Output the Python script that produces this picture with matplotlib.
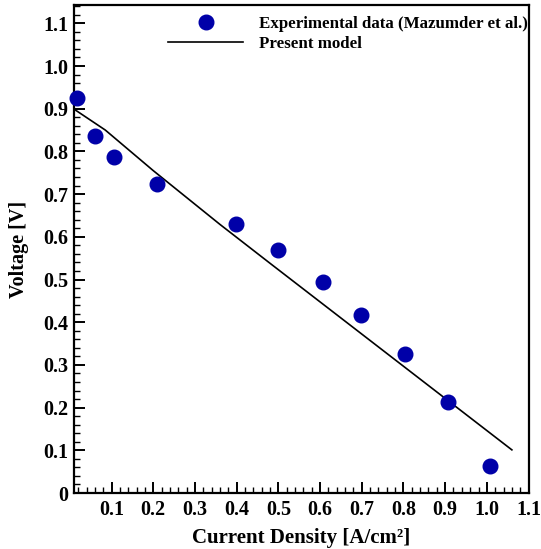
import matplotlib

matplotlib.use("Agg")
import matplotlib.pyplot as plt
from matplotlib.ticker import FixedLocator, MultipleLocator, FuncFormatter

# experimental points (Mazumder et al.)
exp_current = [0.016, 0.06, 0.106, 0.208, 0.398, 0.499, 0.607, 0.698, 0.804, 0.908, 1.008]
exp_voltage = [0.924, 0.836, 0.788, 0.723, 0.630, 0.569, 0.494, 0.417, 0.326, 0.214, 0.063]

# present model curve
model_current = [0.01, 0.085, 0.2, 0.36, 0.48, 1.06]
model_voltage = [0.899, 0.850, 0.755, 0.629, 0.538, 0.101]

x_ticks = [0.1, 0.2, 0.3, 0.4, 0.5, 0.6, 0.7, 0.8, 0.9, 1.0, 1.1]
y_ticks = [0.0, 0.1, 0.2, 0.3, 0.4, 0.5, 0.6, 0.7, 0.8, 0.9, 1.0, 1.1]

plt.rcParams["font.family"] = ["Liberation Serif", "DejaVu Serif"]
plt.rcParams["font.weight"] = "bold"

fig = plt.figure(figsize=(5.41, 5.49), dpi=100)
ax = fig.add_axes([0.1368, 0.102, 0.977 - 0.1368, 0.991 - 0.102])

ax.plot(exp_current, exp_voltage, linestyle="none", marker="o", markersize=10.5,
        color="#0000a8", label="Experimental data (Mazumder et al.)", clip_on=False, zorder=3)
ax.plot(model_current, model_voltage, color="black", linewidth=1.2, label="Present model", zorder=2)

ax.set_xlim(0.01, 1.1)
ax.set_ylim(0, 1.143)
ax.xaxis.set_major_locator(FixedLocator(x_ticks))
ax.yaxis.set_major_locator(FixedLocator(y_ticks))
ax.xaxis.set_minor_locator(MultipleLocator(0.02))
ax.yaxis.set_minor_locator(MultipleLocator(0.02))
ax.yaxis.set_major_formatter(FuncFormatter(lambda v, _p: "0" if abs(v) < 1e-9 else f"{v:.1f}"))
ax.xaxis.set_major_formatter(FuncFormatter(lambda v, _p: f"{v:.1f}"))

ax.tick_params(which="both", direction="in", top=False, right=False, width=1.4)
ax.tick_params(which="major", length=8, labelsize=14.5, pad=5)
ax.tick_params(axis="y", which="major", pad=4)
ax.tick_params(which="minor", length=4.5, width=1.0)
for side in ["left", "bottom", "right", "top"]:
    ax.spines[side].set_linewidth(1.6)

ax.set_xlabel("Current Density [A/cm²]", fontsize=15, fontweight="bold", labelpad=6)
ax.set_ylabel("Voltage [V]", fontsize=14.5, fontweight="bold", labelpad=10)

ax.legend(loc="upper left", bbox_to_anchor=(0.2, 0.984), frameon=False,
          handlelength=4.4, handletextpad=0.95, labelspacing=0.25, borderpad=0.2,
          borderaxespad=0, prop={"weight": "bold", "size": 12.2})

fig.savefig("out.png", dpi=100)
